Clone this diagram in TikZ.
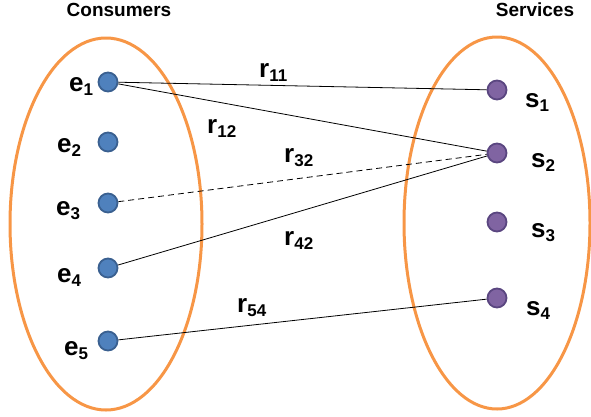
\documentclass[tikz,border=0pt]{standalone}
\usepackage{fontspec}
\setmainfont{Liberation Sans}
\definecolor{ringorange}{HTML}{F79646}
\definecolor{bluefill}{HTML}{4F81BD}
\definecolor{blueedge}{HTML}{3A6090}
\definecolor{purplefill}{HTML}{8064A2}
\definecolor{purpleedge}{HTML}{5A4680}
\newcommand{\idx}[2]{{\fontsize{26}{26}\selectfont #1}\raisebox{-4.5pt}{\fontsize{17}{17}\selectfont #2}}

\begin{document}
\begin{tikzpicture}[x=1pt,y=-1pt,
    consumer/.style={circle,draw=blueedge,fill=bluefill,line width=1.8pt,minimum size=19pt,inner sep=0pt},
    service/.style={circle,draw=purpleedge,fill=purplefill,line width=1.8pt,minimum size=19pt,inner sep=0pt},
    lbl/.style={font=\bfseries,inner sep=0pt,anchor=base west},
    title/.style={font=\bfseries\fontsize{19}{19}\selectfont,inner sep=0pt}]
    \useasboundingbox (0,0) rectangle (591,416);

    % the two sets
    \draw[ringorange,line width=3pt] (106,224) ellipse (96 and 186);
    \draw[ringorange,line width=3pt] (497,223) ellipse (93 and 186);

    \node[title] (consumers) at (119,10) {Consumers};
    \node[title] (services) at (535,10) {Services};

    % consumers and their labels
    \foreach \n/\y/\lx/\ly in {1/82/69/91, 2/142/57/152, 3/203/56/215, 4/268/57/282, 5/341/64/355} {
        \node[consumer] (e\n) at (108,\y) {};
        \node[lbl] (le\n) at (\lx,\ly) {\idx{e}{\n}};
    }

    % services and their labels
    \foreach \n/\y/\lx/\ly in {1/90/525/107, 2/153/531/167, 3/222/531/237, 4/298/526/315} {
        \node[service] (s\n) at (497,\y) {};
        \node[lbl] (ls\n) at (\lx,\ly) {\idx{s}{\n}};
    }

    % relations
    \draw[thick] (e1) -- (s1);
    \draw[thick] (e1) -- (s2);
    \draw[thick,dash pattern=on 6pt off 4pt] (e3) -- (s2);
    \draw[thick] (e4) -- (s2);
    \draw[thick] (e5) -- (s4);

    \foreach \i/\x/\y in {11/259/77, 12/207/133, 32/284/162, 42/284/245, 54/237/312}
        \node[lbl] (r\i) at (\x,\y) {\idx{r}{\i}};

\end{tikzpicture}
\end{document}
